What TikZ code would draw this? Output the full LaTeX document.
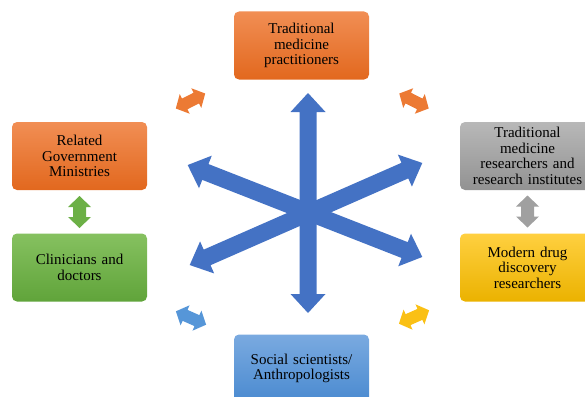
\documentclass[tikz,border=0pt]{standalone}
\usepackage{fontspec}
\setmainfont{Liberation Serif}
\definecolor{mainblue}{RGB}{68,114,196}
\definecolor{orT}{RGB}{241,142,84}
\definecolor{orB}{RGB}{226,104,30}
\definecolor{grT}{RGB}{134,193,96}
\definecolor{grB}{RGB}{96,164,58}
\definecolor{gyT}{RGB}{184,184,184}
\definecolor{gyB}{RGB}{146,146,146}
\definecolor{ywT}{RGB}{255,208,64}
\definecolor{ywB}{RGB}{235,178,0}
\definecolor{blT}{RGB}{122,170,224}
\definecolor{blB}{RGB}{74,138,208}
\definecolor{orA}{RGB}{236,122,52}
\definecolor{grA}{RGB}{108,176,70}
\definecolor{gyA}{RGB}{160,160,160}
\definecolor{ywA}{RGB}{250,192,20}
\definecolor{blA}{RGB}{86,150,216}
% \dblarr{cx}{cy}{angle}{halflen}{shaft half}{head half}{head len}{colour}
\newcommand\dblarr[8]{%
  \begin{scope}[shift={(#1,#2)},rotate=#3]
    \fill[#8] (-#4,0) -- ({-#4+#7},#6) -- ({-#4+#7},#5) -- ({#4-#7},#5) -- ({#4-#7},#6)
      -- (#4,0) -- ({#4-#7},-#6) -- ({#4-#7},-#5) -- ({-#4+#7},-#5) -- ({-#4+#7},-#6) -- cycle;
  \end{scope}}
\tikzset{
  box/.style={rounded corners=5pt, minimum width=135pt, minimum height=68pt,
    inner sep=1pt, align=center, text width=133pt,
    font=\fontsize{15}{15.6}\selectfont, text=black},
  orbox/.style={box, top color=orT, bottom color=orB},
  grbox/.style={box, top color=grT, bottom color=grB},
  gybox/.style={box, top color=gyT, bottom color=gyB},
  ywbox/.style={box, top color=ywT, bottom color=ywB},
  blbox/.style={box, top color=blT, bottom color=blB},
}
\begin{document}
\begin{tikzpicture}[x=1pt,y=-1pt]
\useasboundingbox (0,0) rectangle (585,396);
\clip (0,0) rectangle (585,396);
% boxes
\node[orbox] (tmp) at (301.5,45.5) {Traditional\\medicine\\practitioners};
\node[orbox] (rgm) at (79.5,156) {Related\\Government\\Ministries};
\node[grbox] (cld) at (79.5,267.5) {Clinicians and\\doctors};
\node[gybox] (tmr) at (527.5,156) {Traditional\\medicine\\researchers and\\research institutes};
\node[ywbox] (mdd) at (527.5,267.5) {Modern drug\\discovery\\researchers};
\node[blbox] (ssa) at (301.5,368.5) {Social scientists/\\Anthropologists};
% central arrows
\dblarr{305}{211}{-21.4}{126}{8.5}{17.5}{19}{mainblue}
\dblarr{306}{214}{23.7}{127}{8.5}{17.5}{19}{mainblue}
\dblarr{308}{203}{90}{110}{8.5}{17.5}{19}{mainblue}
% small arrows
\dblarr{190.5}{101}{27}{16.5}{6}{11}{10}{orA}
\dblarr{414}{101}{-27}{16.5}{6}{11}{10}{orA}
\dblarr{191}{318}{-24}{16.5}{6}{11}{10}{blA}
\dblarr{414}{317}{24}{16.5}{6}{11}{10}{ywA}
\dblarr{79.5}{212}{90}{16}{6.5}{11.5}{11}{grA}
\dblarr{527.5}{211.5}{90}{16}{6.5}{11.5}{11}{gyA}
\end{tikzpicture}
\end{document}
